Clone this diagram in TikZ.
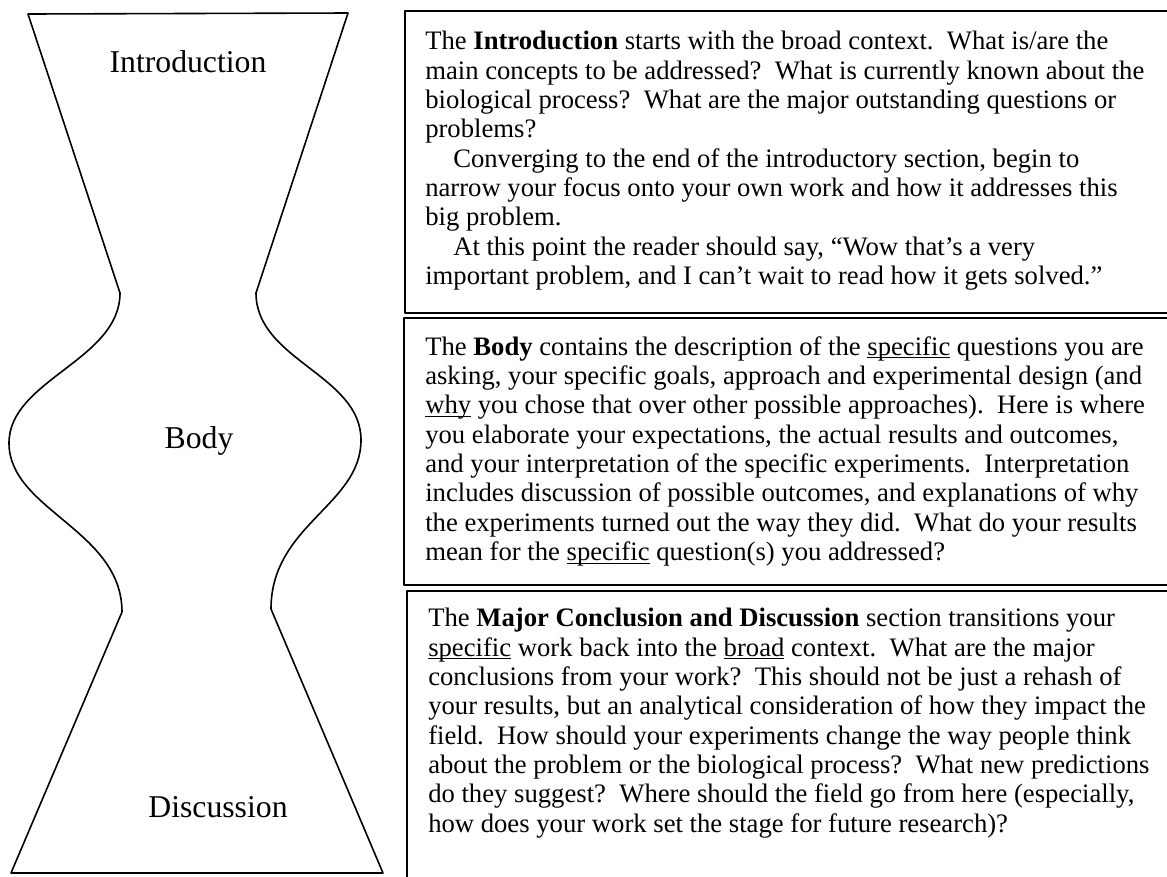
\documentclass[tikz,border=0pt]{standalone}
\usepackage{fontspec}
\setmainfont{Liberation Serif}
\tikzset{
  outline/.style={line width=1.2pt, line join=round},
  label text/.style={font=\fontsize{23.8}{28}\selectfont, inner sep=0pt, anchor=base},
  panel text/.style={font=\fontsize{20}{22}\selectfont, align=left, anchor=north west, inner sep=0pt}
}
\newcommand{\indentpar}{\hspace*{21pt}}
\newcommand{\underword}[1]{\setbox0\hbox{#1}\rlap{\rule[-2.4pt]{\wd0}{0.8pt}}\box0\relax}
\begin{document}
\begin{tikzpicture}[x=0.75pt, y=-0.75pt]
  \useasboundingbox (0,0) rectangle (1167,876);
  \clip (0,0) rectangle (1167,876);
  % hourglass outline
  \draw[outline] (28,14) -- (348,13) -- (256,293)
    .. controls (256,360) and (361,375) .. (361,440)
    .. controls (361,505) and (271,525) .. (271,609)
    -- (383,873) -- (11,873) -- (122,612)
    .. controls (122,530) and (9,510) .. (9,443)
    .. controls (9,380) and (120,360) .. (120,293) -- cycle;
  \node[label text] (intro) at (188,72) {Introduction};
  \node[label text] (body) at (199,448) {Body};
  \node[label text] (discussion) at (218,817) {Discussion};
  % panels
  \draw[outline] (405,11) rectangle (1180,313);
  \draw[outline] (404,318) rectangle (1180,585);
  \draw[outline] (407,591) rectangle (1180,890);
  \node[panel text] (intro text) at (425,31) {%
    The \textbf{Introduction} starts with the broad context.\ \ What is/are the\\
    main concepts to be addressed?\ \ What is currently known about the\\
    biological process?\ \ What are the major outstanding questions or\\
    problems?\\
    \indentpar Converging to the end of the introductory section, begin to\\
    narrow your focus onto your own work and how it addresses this\\
    big problem.\\
    \indentpar At this point the reader should say, “Wow that’s a very\\
    important problem, and I can’t wait to read how it gets solved.”};
  \node[panel text] (body text) at (425,336) {%
    The \textbf{Body} contains the description of the \underword{specific} questions you are\\
    asking, your specific goals, approach and experimental design (and\\
    \underword{why} you chose that over other possible approaches).\ \ Here is where\\
    you elaborate your expectations, the actual results and outcomes,\\
    and your interpretation of the specific experiments.\ \ Interpretation\\
    includes discussion of possible outcomes, and explanations of why\\
    the experiments turned out the way they did.\ \ What do your results\\
    mean for the \underword{specific} question(s) you addressed?};
  \node[panel text] (discussion text) at (428,608) {%
    The \textbf{Major Conclusion and Discussion} section transitions your\\
    \underword{specific} work back into the \underword{broad} context.\ \ What are the major\\
    conclusions from your work?\ \ This should not be just a rehash of\\
    your results, but an analytical consideration of how they impact the\\
    field.\ \ How should your experiments change the way people think\\
    about the problem or the biological process?\ \ What new predictions\\
    do they suggest?\ \ Where should the field go from here (especially,\\
    how does your work set the stage for future research)?};
\end{tikzpicture}
\end{document}
